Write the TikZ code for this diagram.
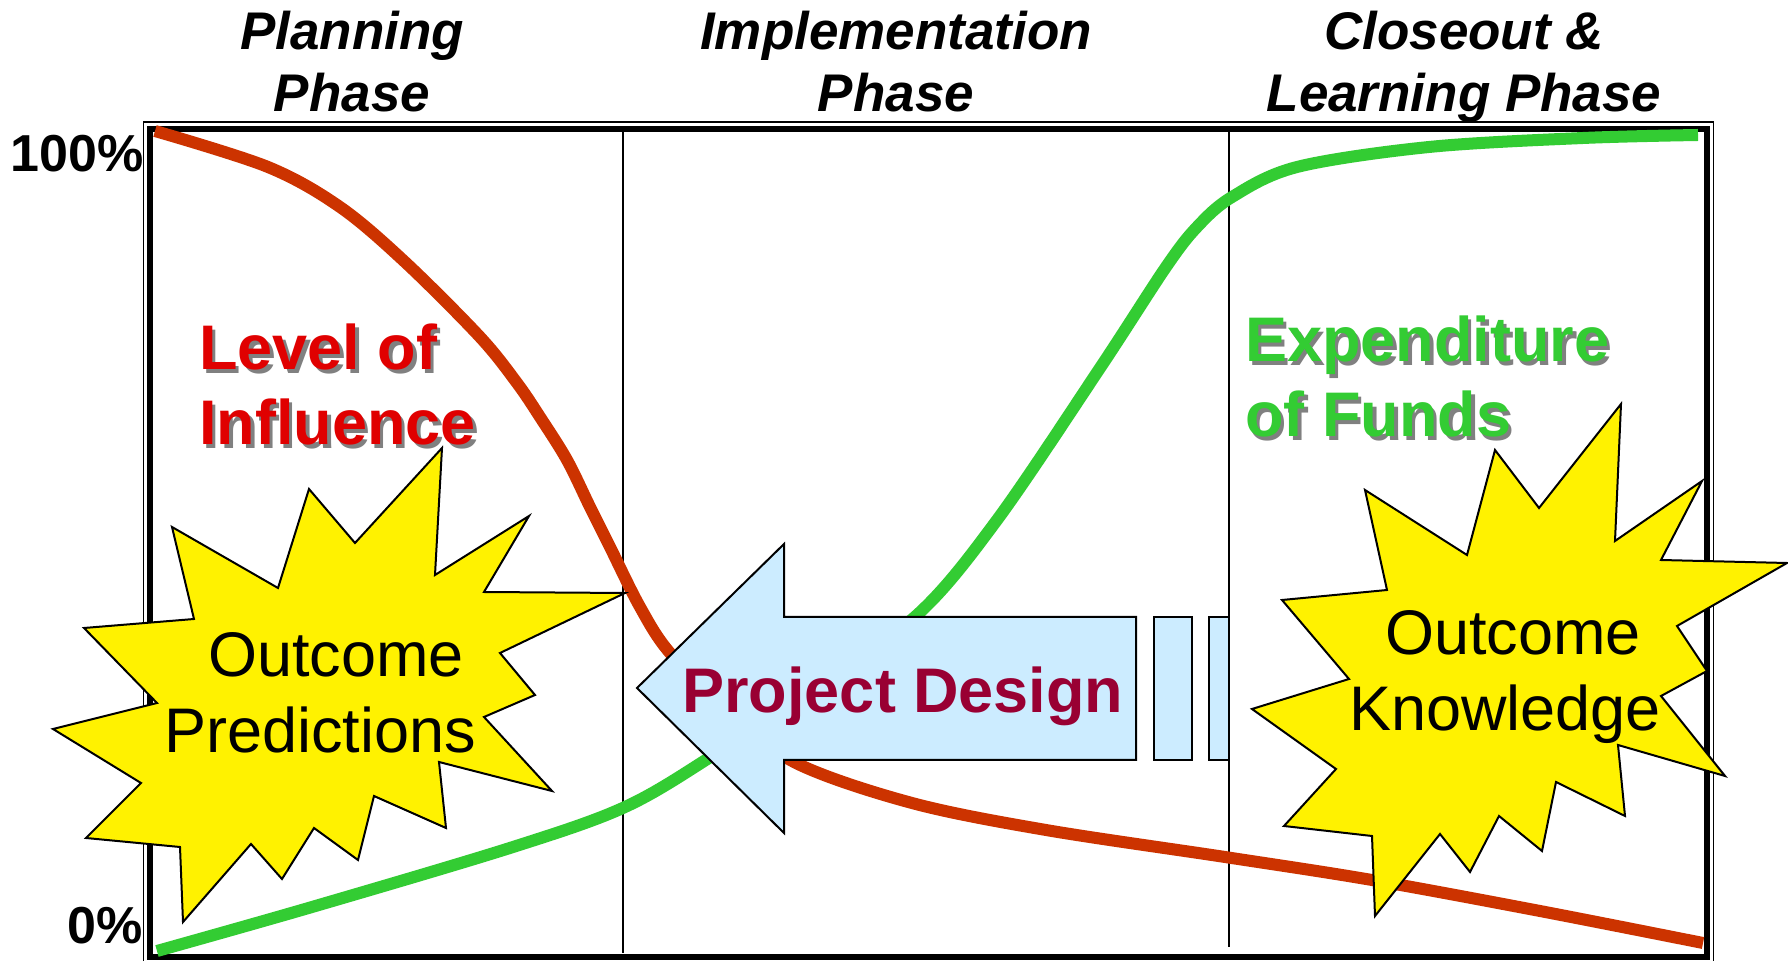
\documentclass[tikz,border=0pt]{standalone}
\usepackage{fontspec}
\setmainfont{Liberation Sans}
\definecolor{curvered}{RGB}{204,51,0}
\definecolor{curvegreen}{RGB}{51,204,51}
\definecolor{textred}{RGB}{224,0,0}
\definecolor{maroon}{RGB}{153,0,51}
\definecolor{lightblue}{RGB}{204,236,255}
\definecolor{shadowgray}{RGB}{128,128,128}
\begin{document}
\begin{tikzpicture}[x=0.5pt,y=-0.5pt,
  heading/.style={inner sep=0pt,anchor=base,font=\fontsize{26.5}{31}\selectfont\bfseries\itshape},
  pct/.style={inner sep=0pt,anchor=base east,font=\fontsize{26}{31}\selectfont\bfseries},
  bigbold/.style={inner sep=0pt,anchor=base west,font=\fontsize{31.5}{37}\selectfont\bfseries},
  starlabel/.style={inner sep=0pt,anchor=base,font=\fontsize{31.5}{37}\selectfont},
  curve/.style={line width=6pt},
  divider/.style={line width=1pt},
  burst/.style={draw=black,fill=yellow,line width=1pt,line join=miter},
  arrowbox/.style={draw=black,fill=lightblue,line width=1pt}]
\useasboundingbox (0,0) rectangle (1788,961);
\fill[white] (0,0) rectangle (1788,961);
% frame
\draw[line width=0.75pt] (143.5,122) rectangle (1713.5,966);
\draw[line width=3pt] (150,129.5) rectangle (1707,956.5);
% phase dividers
\draw[divider] (623,132) -- (623,953);
\draw[divider] (1228.5,132) -- (1228.5,947);
% curves
\draw[curve,curvered] plot[smooth,tension=0.55] coordinates {
  (155,131) (268,167) (340,207) (405,262) (480,337) (517,383)
  (540,417) (567,460) (590,507) (610,547) (640,607) (670,653) (730,712)
  (796,763) (912,803) (1046,830) (1225,857) (1372,880) (1540,911) (1703,943)};
\draw[curve,curvegreen] plot[smooth,tension=0.55] coordinates {
  (157,951) (312,907) (513,847) (625,807) (712,756) (810,690) (917,615)
  (997,520) (1100,368) (1166,267) (1197,227) (1232,197) (1297,167)
  (1429,147) (1583,138) (1698,135)};
% project design arrow
\draw[arrowbox] (637,688) -- (784,544) -- (784,617) -- (1136,617) -- (1136,760)
  -- (784,760) -- (784,833) -- cycle;
\draw[arrowbox] (1154,617) rectangle (1192,760);
\draw[arrowbox] (1209,617) rectangle (1228.5,760);
\node[bigbold,text=maroon] (design) at (682,713) {Project Design};
% bursts
\draw[burst] (442,448) -- (435,575) -- (529,516) -- (484,592) -- (625,593)
  -- (500,653) -- (535,695) -- (484,717) -- (552,791) -- (439,762)
  -- (446,828) -- (374,796) -- (358,860) -- (314,828) -- (282,879)
  -- (251,844) -- (183,922) -- (180,847) -- (86,838) -- (141,783)
  -- (53,729) -- (157,703) -- (84,628) -- (194,619) -- (172,527)
  -- (278,588) -- (309,489) -- (355,543) -- cycle;
\draw[burst] (1621,404) -- (1615,541) -- (1702,481) -- (1661,560) -- (1787,563)
  -- (1677,626) -- (1707,671) -- (1661,696) -- (1725,776) -- (1618,745)
  -- (1625,816) -- (1556,782) -- (1542,851) -- (1499,816) -- (1470,872)
  -- (1440,834) -- (1375,916) -- (1372,836) -- (1284,826) -- (1336,769)
  -- (1252,709) -- (1349,679) -- (1282,600) -- (1387,590) -- (1365,490)
  -- (1467,555) -- (1495,450) -- (1539,508) -- cycle;
\node[starlabel] (predA) at (336,677) {Outcome};
\node[starlabel] (predB) at (320,753) {Predictions};
\node[starlabel] (knowA) at (1513,655) {Outcome};
\node[starlabel] (knowB) at (1505,731) {Knowledge};
% headings
\node[heading] (planA) at (352,50) {Planning};
\node[heading] (planB) at (352,112) {Phase};
\node[heading] (implA) at (896,50) {Implementation};
\node[heading] (implB) at (896,112) {Phase};
\node[heading] (closeA) at (1464,50) {Closeout \&};
\node[heading] (closeB) at (1464,112) {Learning Phase};
% axis labels
\node[pct] (top) at (144,172) {100\%};
\node[pct] (bottom) at (143,943) {0\%};
% curve labels with shadow
\node[bigbold,text=shadowgray] (inflAs) at (202.5,373.5) {Level of};
\node[bigbold,text=shadowgray] (inflBs) at (202.5,448.5) {Influence};
\node[bigbold,text=textred] (inflA) at (199,370) {Level of};
\node[bigbold,text=textred] (inflB) at (199,445) {Influence};
\node[bigbold,text=shadowgray] (fundAs) at (1248.5,365.5) {Expenditure};
\node[bigbold,text=shadowgray] (fundBs) at (1248.5,440.5) {of Funds};
\node[bigbold,text=curvegreen] (fundA) at (1245,362) {Expenditure};
\node[bigbold,text=curvegreen] (fundB) at (1245,437) {of Funds};
\end{tikzpicture}
\end{document}
